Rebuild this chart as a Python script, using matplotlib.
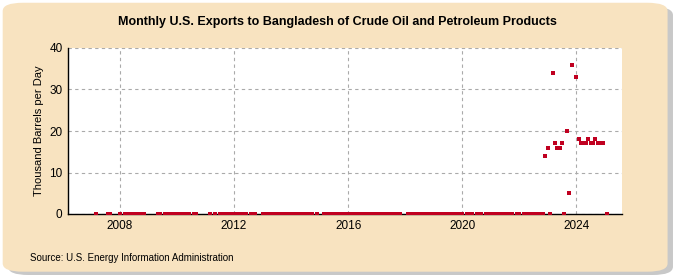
import pandas as pd
import matplotlib.pyplot as plt
from matplotlib.patches import FancyBboxPatch

plt.rcParams["font.family"] = ["Liberation Sans", "DejaVu Sans"]

# months with a reported value of zero (start, end) inclusive
zero_spans = [
    ("2007-03", "2007-03"), ("2007-08", "2007-09"),
    ("2008-01", "2008-01"), ("2008-03", "2008-11"),
    ("2009-05", "2009-06"), ("2009-08", "2009-12"),
    ("2010-02", "2010-06"), ("2010-08", "2010-09"),
    ("2011-03", "2011-03"), ("2011-05", "2011-05"), ("2011-07", "2012-06"),
    ("2012-08", "2012-10"),
    ("2013-01", "2014-10"), ("2014-12", "2014-12"),
    ("2015-03", "2015-04"), ("2015-06", "2016-10"),
    ("2016-12", "2017-09"), ("2017-11", "2017-11"),
    ("2018-02", "2020-01"), ("2020-03", "2020-05"), ("2020-07", "2020-09"),
    ("2020-11", "2021-10"), ("2021-12", "2022-01"), ("2022-03", "2022-11"),
    ("2023-02", "2023-02"), ("2023-08", "2023-08"), ("2025-02", "2025-02"),
]

recent_months = ["2022-12", "2023-01", "2023-03", "2023-04", "2023-05", "2023-06",
                 "2023-07", "2023-09", "2023-10", "2023-11", "2024-01", "2024-02",
                 "2024-03", "2024-04", "2024-05", "2024-06", "2024-07", "2024-08",
                 "2024-09", "2024-10", "2024-11", "2024-12"]
recent_values = [14, 16, 34, 17, 16, 16, 17, 20, 5, 36, 33, 18,
                 17, 17, 17, 18, 17, 17, 18, 17, 17, 17]

year_ticks = [2008, 2012, 2016, 2020, 2024]

zero_dates = pd.DatetimeIndex([])
for a, b in zero_spans:
    zero_dates = zero_dates.append(pd.date_range(a, b, freq="MS"))

df = pd.concat([
    pd.DataFrame({"date": zero_dates, "value": 0}),
    pd.DataFrame({"date": pd.to_datetime(recent_months), "value": recent_values}),
]).sort_values("date")
df["x"] = df["date"].dt.year + (df["date"].dt.month - 1) / 12

fig = plt.figure(figsize=(6.75, 2.75), dpi=100)
fig.patch.set_facecolor("white")

# rounded beige background with a soft shadow
fig.patches.append(FancyBboxPatch((0.012, 0.0), 0.985, 0.975, boxstyle="round,pad=0,rounding_size=0.03",
                                  transform=fig.transFigure, facecolor="#c8c8c8", edgecolor="none", zorder=-2))
fig.patches.append(FancyBboxPatch((0.004, 0.012), 0.985, 0.978, boxstyle="round,pad=0,rounding_size=0.03",
                                  transform=fig.transFigure, facecolor="#f8e3c0", edgecolor="none", zorder=-1))

ax = fig.add_axes([68 / 675, 1 - 214 / 275, (622 - 68) / 675, (214 - 48) / 275])
ax.set_facecolor("white")
ax.scatter(df["x"], df["value"], marker="s", s=11, color="#c00020", zorder=3, linewidths=0)

ax.set_xlim(2006.18, 2025.6)
ax.set_ylim(0, 40)
ax.set_yticks([0, 10, 20, 30, 40])
ax.set_xticks(year_ticks)
ax.set_xticklabels([str(y) for y in year_ticks])
ax.grid(True, color="#aaaaaa", linestyle=(0, (3, 3)), linewidth=0.8)
ax.set_axisbelow(True)
for s in ["top", "right"]:
    ax.spines[s].set_visible(False)
ax.spines["left"].set_linewidth(1)
ax.spines["bottom"].set_linewidth(1)
ax.tick_params(length=0, labelsize=8.5, pad=4)
ax.set_ylabel("Thousand Barrels per Day", fontsize=8)

fig.text(0.5, 0.92, "Monthly U.S. Exports to Bangladesh of Crude Oil and Petroleum Products",
         ha="center", va="center", fontsize=9, fontweight="bold")
fig.text(30 / 675, 1 - 258 / 275, "Source: U.S. Energy Information Administration",
         ha="left", va="center", fontsize=7)

fig.savefig("out.png", dpi=100)
